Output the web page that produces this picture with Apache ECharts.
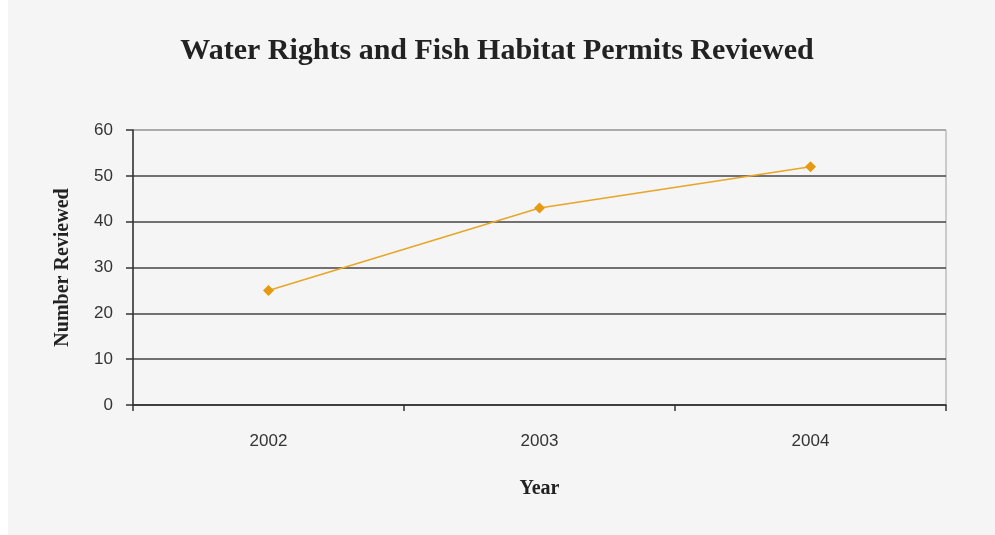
<!DOCTYPE html>
<html>
<head>
<meta charset="utf-8">
<script src="https://cdn.jsdelivr.net/npm/echarts@6/dist/echarts.min.js"></script>
<style>
  html, body { margin: 0; padding: 0; background: #ffffff; }
  #chart { position: absolute; left: 8px; top: 0; width: 987px; height: 535px; background: #f5f5f5; }
</style>
</head>
<body>
<div id="chart"></div>
<script>
// data
const years = ['2002', '2003', '2004']
const reviewed = [25, 43, 52]

const chart = echarts.init(document.getElementById('chart'))

const option = {
  backgroundColor: '#f5f5f5',
  title: {
    text: 'Water Rights and Fish Habitat Permits Reviewed',
    left: 484,
    textAlign: 'center',
    top: 31,
    textStyle: {
      fontFamily: 'Liberation Serif',
      fontWeight: 'bold',
      fontSize: 30,
      color: '#222'
    }
  },
  grid: {
    left: 125,
    right: 49,
    top: 130,
    bottom: 130,
    show: true,
    borderColor: '#a0a0a0',
    borderWidth: 1
  },
  xAxis: {
    type: 'category',
    data: years,
    boundaryGap: true,
    name: 'Year',
    nameLocation: 'middle',
    nameGap: 74,
    nameTextStyle: {
      fontFamily: 'Liberation Serif',
      fontWeight: 'bold',
      fontSize: 20,
      color: '#222'
    },
    axisLine: { lineStyle: { color: '#333', width: 1.5 } },
    axisTick: { show: true, length: 6, lineStyle: { color: '#333', width: 1.5 } },
    axisLabel: {
      margin: 28,
      fontFamily: 'Liberation Sans',
      fontSize: 17,
      color: '#333'
    }
  },
  yAxis: {
    type: 'value',
    min: 0,
    max: 60,
    interval: 10,
    name: 'Number Reviewed',
    nameLocation: 'middle',
    nameGap: 60,
    nameTextStyle: {
      fontFamily: 'Liberation Serif',
      fontWeight: 'bold',
      fontSize: 20,
      color: '#222'
    },
    axisLine: { show: true, lineStyle: { color: '#333', width: 1.5 } },
    axisTick: { show: true, length: 7, lineStyle: { color: '#333', width: 1.5 } },
    axisLabel: {
      margin: 20,
      fontFamily: 'Liberation Sans',
      fontSize: 17,
      color: '#333'
    },
    splitLine: {
      show: true,
      lineStyle: { color: ['#444', '#444', '#444', '#444', '#444', '#444', '#a0a0a0'], width: 1.5 }
    }
  },
  series: [
    {
      type: 'line',
      data: reviewed,
      symbol: 'diamond',
      symbolSize: 11,
      itemStyle: { color: '#e69a12' },
      lineStyle: { color: '#e8a526', width: 1.5 }
    }
  ]
}

chart.setOption(option)
window.addEventListener('resize', () => { chart.resize() })
</script>
</body>
</html>
